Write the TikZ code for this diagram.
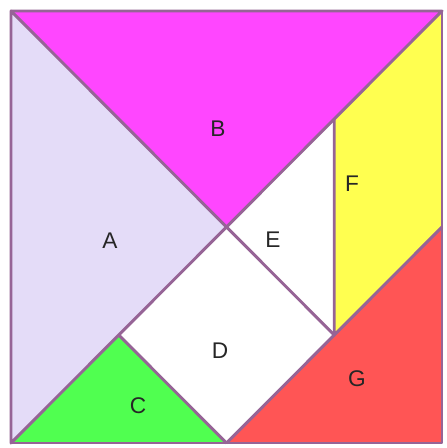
\documentclass[tikz,border=0pt]{standalone}
\usepackage{fontspec}
\setmainfont{Liberation Sans}
\usepackage{xcolor}
\definecolor{edgepurple}{RGB}{150,100,150}
\definecolor{lavender}{RGB}{228,220,248}
\definecolor{magentapc}{RGB}{255,70,255}
\definecolor{greenpc}{RGB}{80,255,80}
\definecolor{yellowpc}{RGB}{255,255,80}
\definecolor{redpc}{RGB}{255,85,85}
\tikzset{
  piece/.style={draw=edgepurple, line width=2.2pt, line join=round},
  letter/.style={font=\fontsize{17}{17}\selectfont, text=black!85}
}
\begin{document}
\begin{tikzpicture}[x=0.75pt, y=-0.75pt]
        \useasboundingbox[fill=white] (0,0) rectangle (446,448);
        % corners, midpoints and quarter points of the square
        \coordinate (tl) at (11,11);
        \coordinate (tr) at (442,11);
        \coordinate (br) at (442,443);
        \coordinate (bl) at (11,443);
        \coordinate (ctr) at (226.5,227);
        \coordinate (rm) at (442,227);
        \coordinate (bm) at (226.5,443);
        \coordinate (fq) at (334.25,119);
        \coordinate (gq) at (334.25,335);
        \coordinate (cq) at (118.75,335);

        % A and B, the two large triangles
        \fill[lavender] (tl) -- (ctr) -- (bl) -- cycle;
        \fill[magentapc] (tl) -- (tr) -- (ctr) -- cycle;
        % C small triangle, D square, E small triangle
        \fill[greenpc] (cq) -- (bm) -- (bl) -- cycle;
        \fill[white] (ctr) -- (gq) -- (bm) -- (cq) -- cycle;
        \fill[white] (ctr) -- (fq) -- (gq) -- cycle;
        % F parallelogram, G medium triangle
        \fill[yellowpc] (fq) -- (tr) -- (rm) -- (gq) -- cycle;
        \fill[redpc] (rm) -- (br) -- (bm) -- cycle;

        % outlines
        \draw[piece] (tl) -- (ctr) -- (bl) -- cycle;
        \draw[piece] (tl) -- (tr) -- (ctr);
        \draw[piece] (cq) -- (bm);
        \draw[piece] (ctr) -- (gq) -- (bm);
        \draw[piece] (fq) -- (gq) -- (rm);
        \draw[piece] (tl) rectangle (br);

        % labels
        \node[letter] (labA) at (110,241) {A};
        \node[letter] (labB) at (218,129) {B};
        \node[letter] (labC) at (138,406) {C};
        \node[letter] (labD) at (220,351) {D};
        \node[letter] (labE) at (273,240) {E};
        \node[letter] (labF) at (352,184) {F};
        \node[letter] (labG) at (357,379) {G};
      \end{tikzpicture}
\end{document}
